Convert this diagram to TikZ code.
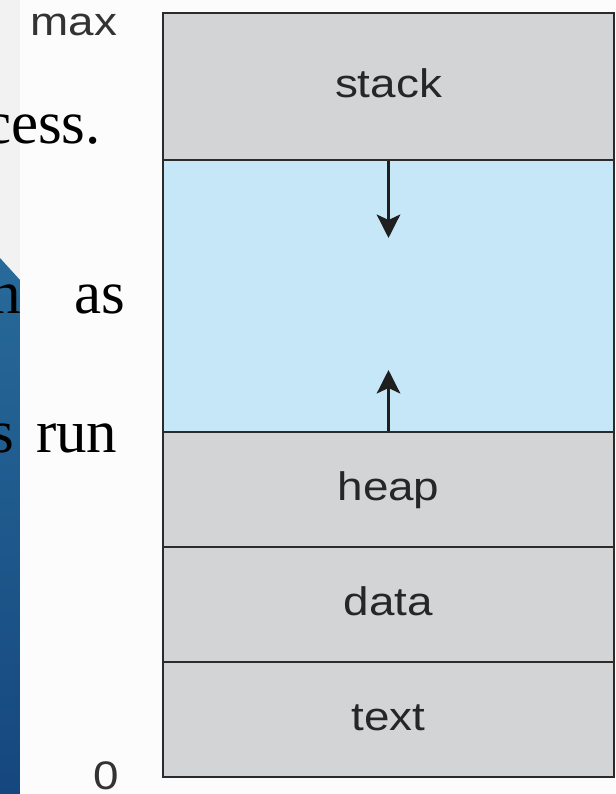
\documentclass[tikz,border=0pt]{standalone}
\usepackage{fontspec}
\setmainfont{Liberation Serif}
\newfontfamily\labelfont[FakeStretch=1.15]{Liberation Sans}
\usetikzlibrary{arrows.meta,positioning}
\definecolor{memgray}{HTML}{D3D4D6}
\definecolor{memfree}{HTML}{C6E7F8}
\definecolor{memline}{HTML}{2B2B2B}
\definecolor{slideblue}{HTML}{286A9A}
\definecolor{slidedark}{HTML}{15477E}
\definecolor{slidegray}{HTML}{F2F2F2}

\begin{document}
\begin{tikzpicture}[x=0.3mm, y=-0.3mm,
  seg/.style={draw=memline, line width=1.7pt, fill=memgray,
              minimum width=135.3mm, inner sep=0pt,
              text height=19pt, text depth=0pt,
              font=\labelfont\fontsize{34}{34}\selectfont, text=black!85},
  free/.style={seg, fill=memfree},
  growarrow/.style={draw=black!88, line width=3.2pt,
               -{Stealth[length=7mm, width=7mm, inset=1.6mm]}},
  addr/.style={inner sep=0pt, font=\labelfont\fontsize{34}{34}\selectfont,
               text=black!80},
  slidetxt/.style={inner sep=0pt, font=\fontsize{52}{52}\selectfont}
]
  \useasboundingbox (0,0) rectangle (616,794);
  \clip (0,0) rectangle (616,794);

  % slide behind the figure
  \fill[white!99!black] (0,0) rectangle (616,794);
  \fill[slidegray] (0,0) rectangle (20,282);
  \shade[top color=slideblue, bottom color=slidedark]
    (0,258) -- (20,280) -- (20,794) -- (0,794) -- cycle;

  \node[slidetxt, anchor=base east] (line1)  at (101,143) {cess.};
  \node[slidetxt, anchor=base east] (line2a) at (21,313)  {h};
  \node[slidetxt, anchor=base west] (line2b) at (74,313)  {as};
  \node[slidetxt, anchor=base east] (line3a) at (14,452)  {s};
  \node[slidetxt, anchor=base west] (line3b) at (36,452)  {run};

  % memory layout, top to bottom
  \node[seg,  minimum height=44.1mm] (stack) at (388.5,86.5)  {stack};
  \node[free, minimum height=81.6mm] (hole)  at (388.5,296)   {};
  \node[seg,  minimum height=34.5mm] (heap)  at (388.5,489.5) {heap};
  \node[seg,  minimum height=34.5mm] (data)  at (388.5,604.5) {data};
  \node[seg,  minimum height=34.5mm] (text)  at (388.5,719.5) {text};

  \node[addr, anchor=base] (max)  at (74,35)   {max};
  \node[addr, anchor=base] (zero) at (106,789) {0};

  % stack grows down, heap grows up
  \coordinate (stacktip) at (388.5,238);
  \coordinate (heaptip)  at (388.5,370);
  \draw[growarrow] (stack.south) -- (stacktip);
  \draw[growarrow] (heap.north)  -- (heaptip);

\end{tikzpicture}
\end{document}
